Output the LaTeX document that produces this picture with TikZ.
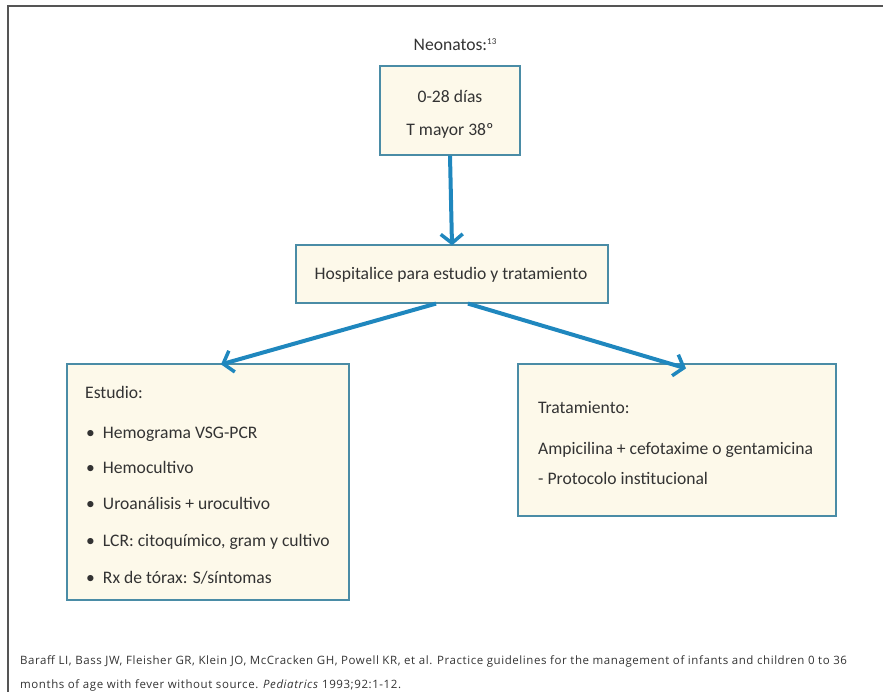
\documentclass[tikz,border=0pt]{standalone}
\usepackage{fontspec}
\setmainfont{Carlito}
\newfontfamily\citefont[LetterSpace=5]{Open Sans}
\usetikzlibrary{arrows.meta}
\definecolor{boxline}{HTML}{4A8CA6}
\definecolor{boxfill}{HTML}{FDF9EA}
\definecolor{flow}{HTML}{1F87BE}
\definecolor{ink}{HTML}{333333}
\definecolor{frame}{HTML}{555555}
\tikzset{
  stepbox/.style={draw=boxline, fill=boxfill, line width=1.2pt, rectangle, inner sep=0pt},
  flowarrow/.style={draw=flow, line width=4pt, -{Straight Barb[length=9pt,width=22pt,line width=3.5pt]}},
  txt/.style={text=ink, font=\fontsize{17.6}{21}\selectfont, inner sep=0pt},
  item/.style={txt, anchor=base west},
  cite/.style={text=ink, font=\citefont\fontsize{11.5}{13}\selectfont, inner sep=0pt, anchor=base west}
}
\begin{document}
\begin{tikzpicture}[x=1pt, y=-1pt]
\useasboundingbox (0,0) rectangle (883,692);
% open page frame
\draw[frame, line width=2pt] (7.5,692) -- (7.5,6.5) -- (883,6.5);

% title and boxes
\node[txt, anchor=base] (title) at (455,51) {Neonatos:\raisebox{0.75ex}{\fontsize{9}{10}\selectfont 13}};
\node[stepbox, minimum width=140pt, minimum height=89pt] (age) at (450,110.5) {};
\node[txt, anchor=base] (ageA) at (450,103) {0-28 días};
\node[txt, anchor=base] (ageB) at (450,136) {T mayor 38º};

\node[stepbox, minimum width=312pt, minimum height=58pt] (hosp) at (452,274) {};
\node[txt, anchor=base] (hospT) at (451,280) {Hospitalice para estudio y tratamiento};

\node[stepbox, minimum width=282pt, minimum height=236pt] (est) at (208,482) {};
\node[item] (estT) at (85,398) {Estudio:};
\node[item] (e1) at (86,438) {•\hspace{8pt}Hemograma VSG-PCR};
\node[item] (e2) at (86,473) {•\hspace{8pt}Hemocultivo};
\node[item] (e3) at (86,509) {•\hspace{8pt}Uroanálisis + urocultivo};
\node[item] (e4) at (86,546) {•\hspace{8pt}LCR: citoquímico, gram y cultivo};
\node[item] (e5) at (86,583) {•\hspace{8pt}Rx de tórax: S/síntomas};

\node[stepbox, minimum width=318pt, minimum height=152pt] (trat) at (677,440) {};
\node[item] (tT) at (538,413) {Tratamiento:};
\node[item] (t1) at (538,454) {Ampicilina + cefotaxime o gentamicina};
\node[item] (t2) at (538,484) {- Protocolo institucional};

% connectors
\draw[flowarrow] (age.south) -- ([yshift=-1pt]hosp.north);
\draw[flowarrow] ([xshift=-16pt]hosp.south) -- ([xshift=13pt,yshift=-1pt]est.north);
\draw[flowarrow] ([xshift=16pt]hosp.south) -- ([xshift=9pt,yshift=-5pt]trat.north);

% reference
\node[cite] (ref1) at (20,664) {Baraff LI, Bass JW, Fleisher GR, Klein JO, McCracken GH, Powell KR, et al. Practice guidelines for the management of infants and children 0 to 36};
\node[cite] (ref2) at (20,688) {months of age with fever without source. \textit{Pediatrics} 1993;92:1-12.};
\end{tikzpicture}
\end{document}
